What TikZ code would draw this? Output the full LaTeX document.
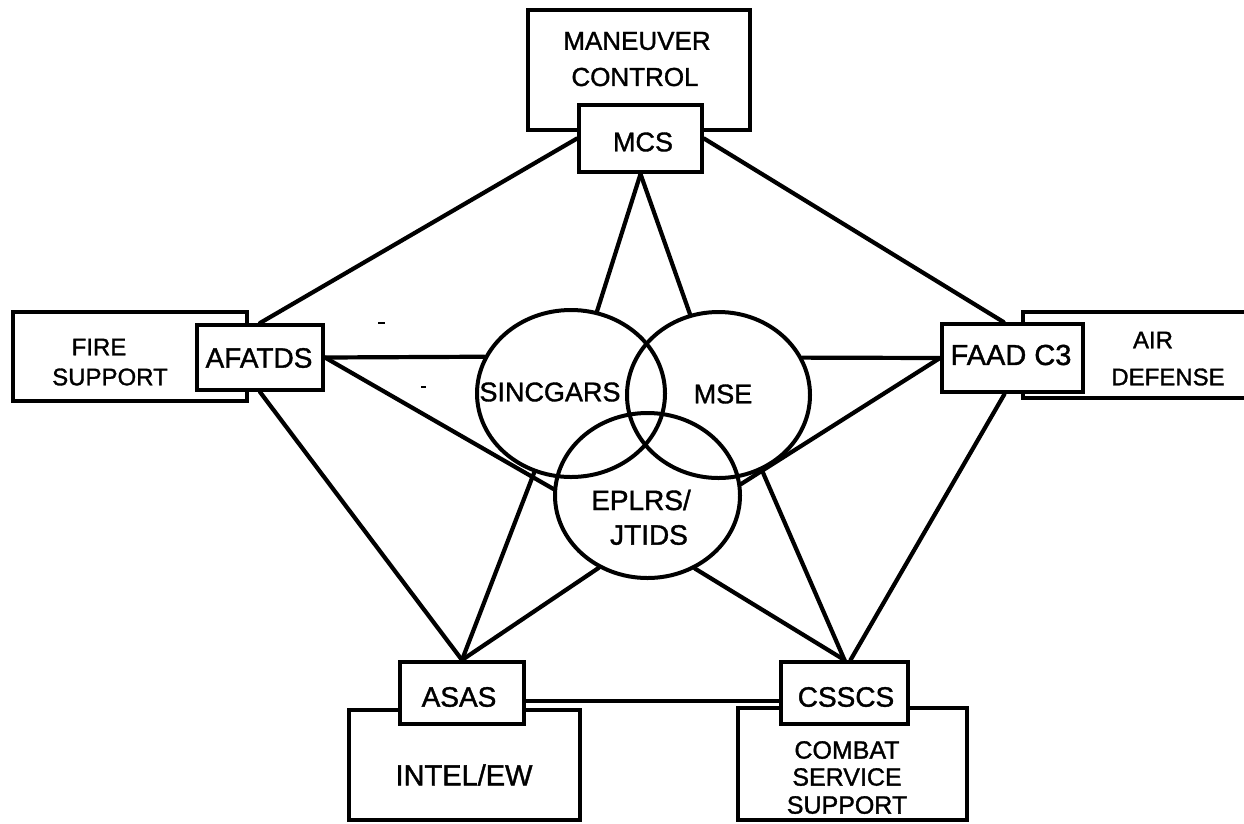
\documentclass[tikz,border=0pt]{standalone}
\usepackage{fontspec}
\setmainfont{Liberation Sans}[FakeBold=1.3]
\usetikzlibrary{shapes.geometric}
\begin{document}
\begin{tikzpicture}[x=1pt,y=-1pt,
  outerbox/.style={draw, line width=4pt, rectangle, inner sep=0},
  innerbox/.style={draw, fill=white, line width=4pt, rectangle, inner sep=0},
  ring/.style={draw, ellipse, line width=4pt, inner sep=0},
  txt/.style={inner sep=0, font=\fontsize{#1}{#1}\selectfont},
  txt/.default=26,
  conn/.style={line width=4.2pt, line cap=round},
  speck/.style={line width=2pt}
]
\useasboundingbox (0,0) rectangle (1244,823);
\begin{scope}
\clip (0,0) rectangle (1244,823);
% outer boxes
\node[outerbox, minimum width=222pt, minimum height=120pt] (mcout) at (639,70) {};
\node[outerbox, minimum width=234pt, minimum height=89pt] (fsout) at (130,356.5) {};
\node[outerbox, minimum width=237pt, minimum height=86pt] (adout) at (1141.5,355) {};
\node[outerbox, minimum width=231pt, minimum height=110pt] (ieout) at (464.5,765) {};
\node[outerbox, minimum width=229pt, minimum height=112pt] (csout) at (852.5,764) {};
% inner boxes
\node[innerbox, minimum width=123pt, minimum height=67pt] (mcs) at (640.5,138.5) {};
\node[innerbox, minimum width=126pt, minimum height=65pt] (afatds) at (260,357.5) {};
\node[innerbox, minimum width=141pt, minimum height=68pt] (faad) at (1012.5,358) {};
\node[innerbox, minimum width=124pt, minimum height=62pt] (asas) at (462,693) {};
\node[innerbox, minimum width=127pt, minimum height=62pt] (csscs) at (844.5,693) {};
% ellipses
\node[ring, minimum width=188pt, minimum height=167pt] (sinc) at (571,393.5) {};
\node[ring, minimum width=183pt, minimum height=166pt] (mse) at (718.5,395) {};
\node[ring, minimum width=185pt, minimum height=165pt] (eplrs) at (647.5,495.5) {};
% connectors
\draw[conn] (mcs.west) -- (afatds.north);
\draw[conn] (mcs.east) -- ([xshift=-9pt]faad.north);
\draw[conn] (mcs.south) -- (sinc);
\draw[conn] (mcs.south) -- (mse);
\draw[conn] (afatds.east) -- (sinc.157);
\draw[conn] (afatds.east) -- (eplrs.176);
\draw[conn] (afatds.south) -- (asas.north);
\draw[conn] (faad.west) -- (mse.24);
\draw[conn] (faad.west) -- (eplrs.7);
\draw[conn] ([xshift=-8pt]faad.south) -- ([xshift=6pt]csscs.north);
\draw[conn] ([yshift=-8pt]asas.east) -- ([yshift=-8pt]csscs.west);
\draw[conn] (asas.north) -- (sinc.245);
\draw[conn] (asas.north) -- (eplrs.236);
\draw[conn] (csscs.north) -- (mse.300);
\draw[conn] (csscs.north) -- (eplrs.303);
% texts
\node[txt=26] (tman) at (637,41) {MANEUVER};
\node[txt=26] (tcon) at (635,77) {CONTROL};
\node[txt=27] (tmcs) at (643,142) {MCS};
\node[txt=24] (tfire) at (99,347) {FIRE};
\node[txt=24] (tsup) at (110,377) {SUPPORT};
\node[txt=28] (tafa) at (259,358) {AFATDS};
\node[txt=29] (tfaad) at (1011,355) {FAAD C3};
\node[txt=24] (tair) at (1153,340) {AIR};
\node[txt=24] (tdef) at (1168,377) {DEFENSE};
\node[txt=27] (tsinc) at (550,392) {SINCGARS};
\node[txt=27] (tmse) at (723,394) {MSE};
\node[txt=28] (tepl) at (641,500) {EPLRS/};
\node[txt=28] (tjt) at (649,535) {JTIDS};
\node[txt=28] (tasas) at (459,697) {ASAS};
\node[txt=28] (tcss) at (846,697) {CSSCS};
\node[txt=29] (tint) at (464,775) {INTEL/EW};
\node[txt=25] (tcomb) at (847,750) {COMBAT};
\node[txt=25] (tserv) at (847,777) {SERVICE};
\node[txt=25] (tsupp) at (847,805) {SUPPORT};
% small specks
\draw[speck] (378,323) -- (385,323);
\draw[speck] (421,387) -- (426,387);
\end{scope}
\end{tikzpicture}
\end{document}
